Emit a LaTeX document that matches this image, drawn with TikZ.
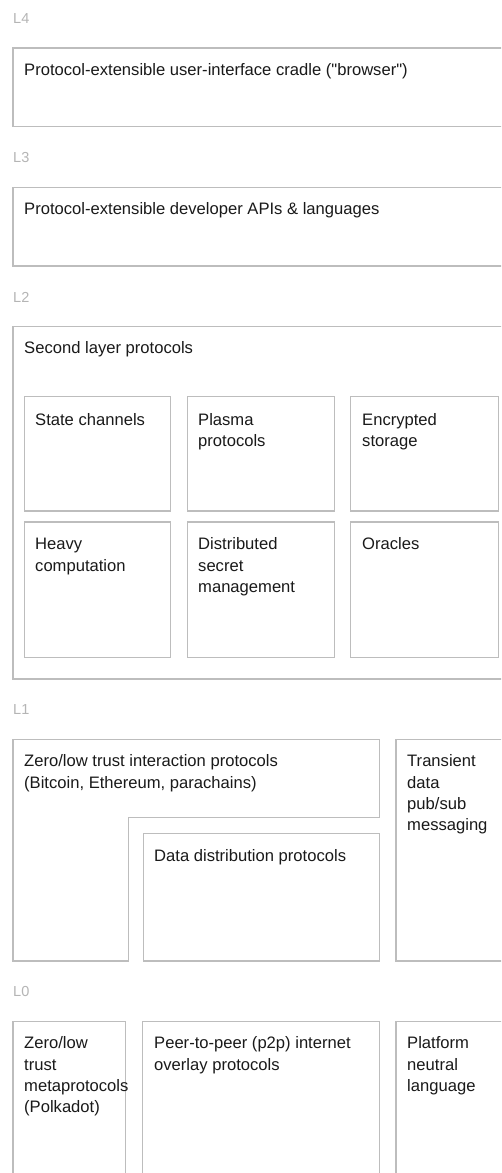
\documentclass[tikz,border=0pt]{standalone}
\usepackage{fontspec}
\setmainfont{Liberation Sans}
\definecolor{framegray}{HTML}{BDBDBD}
\definecolor{labelgray}{HTML}{B5B5B5}
\definecolor{inkdark}{HTML}{1A1A1A}
\newcommand{\firstline}{\rule{0pt}{13pt}}
\begin{document}
\begin{tikzpicture}[x=1pt,y=-1pt,
  frame/.style={draw=framegray,line width=1.3pt},
  layerlabel/.style={anchor=base west,inner sep=0,text=labelgray,font=\fontsize{14.5}{16}\selectfont},
  boxtext/.style={anchor=north west,inner sep=0,text=inkdark,align=left,
    font=\fontsize{16.6}{21.3}\selectfont},
  % y of a text node is its first baseline minus 13pt
]
\useasboundingbox (0,0) rectangle (501,1173);
\clip (0,0) rectangle (501,1173);
\fill[white] (0,0) rectangle (501,1173);

% ---- L4
\node[layerlabel] (l4) at (13,23.5) {L4};
\draw[frame] (13,48) rectangle (520,126.5);
\node[boxtext] (cradle) at (24,62.5) {\firstline Protocol-extensible user-interface cradle (\textquotedbl browser\textquotedbl)};

% ---- L3
\node[layerlabel] (l3) at (13,162.5) {L3};
\draw[frame] (13,187.5) rectangle (520,266);
\node[boxtext] (devapi) at (24,201.5) {\firstline Protocol-extensible developer APIs \& languages};

% ---- L2
\node[layerlabel] (l2) at (13,302.5) {L2};
\draw[frame] (13,326.5) rectangle (520,679);
\node[boxtext] (second) at (24,340.5) {\firstline Second layer protocols};

\draw[frame] (24.5,396.7) rectangle (170.7,511);
\draw[frame] (187.3,396.7) rectangle (334.3,511);
\draw[frame] (350.7,396.7) rectangle (498.3,511);
\draw[frame] (24.5,522) rectangle (170.7,657.7);
\draw[frame] (187.3,522) rectangle (334.3,657.7);
\draw[frame] (350.7,522) rectangle (498.3,657.7);

\node[boxtext] (statech) at (35,412) {\firstline State channels};
\node[boxtext] (plasma) at (198,412) {\firstline Plasma\\protocols};
\node[boxtext] (encstore) at (362,412) {\firstline Encrypted\\storage};
\node[boxtext] (heavy) at (35,536.5) {\firstline Heavy\\computation};
\node[boxtext] (secret) at (198,536.5) {\firstline Distributed\\secret\\management};
\node[boxtext] (oracles) at (362,536.5) {\firstline Oracles};

% ---- L1
\node[layerlabel] (l1) at (13,714.5) {L1};
\draw[frame] (13,739.5) -- (379.3,739.5) -- (379.3,817.3) -- (128.3,817.3)
  -- (128.3,961) -- (13,961) -- cycle;
\draw[frame] (143.3,833.3) rectangle (379.3,961);
\draw[frame] (396,739.5) rectangle (520,961);
\node[boxtext] (zerotrust) at (24,753.5) {\firstline Zero/low trust interaction protocols\\(Bitcoin, Ethereum, parachains)};
\node[boxtext] (datadist) at (154,848) {\firstline Data distribution protocols};
\node[boxtext] (pubsub) at (407,753.5) {\firstline Transient\\data\\pub/sub\\messaging};

% ---- L0
\node[layerlabel] (l0) at (13,996.5) {L0};
\draw[frame] (13,1021.7) rectangle (125.7,1190);
\draw[frame] (142.3,1021.7) rectangle (379.3,1190);
\draw[frame] (396,1021.7) rectangle (520,1190);
\node[boxtext] (meta) at (24,1035.5) {\firstline Zero/low\\trust\\metaprotocols\\(Polkadot)};
\node[boxtext] (p2p) at (154,1035.5) {\firstline Peer-to-peer (p2p) internet\\overlay protocols};
\node[boxtext] (neutral) at (407,1035.5) {\firstline Platform\\neutral\\language};
\end{tikzpicture}
\end{document}
